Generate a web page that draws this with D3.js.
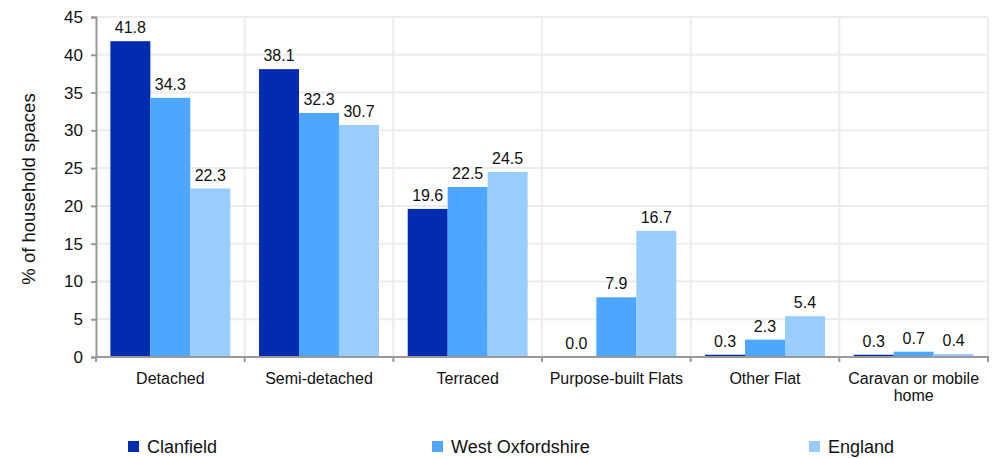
<!DOCTYPE html>
<html><head><meta charset="utf-8">
<script src="https://cdn.jsdelivr.net/npm/d3@7"></script>
<style>body{margin:0;background:#fff;} text{font-family:"Liberation Sans",Arial,sans-serif;fill:#111;}</style>
</head><body>
<svg id="c" width="992" height="458"></svg>
<script>
const categories = ["Detached","Semi-detached","Terraced","Purpose-built Flats","Other Flat","Caravan or mobile home"];
const seriesNames = ["Clanfield","West Oxfordshire","England"];
const clanfield = [41.8,38.1,19.6,0.0,0.3,0.3];
const westOxon = [34.3,32.3,22.5,7.9,2.3,0.7];
const england = [22.3,30.7,24.5,16.7,5.4,0.4];
const yTicks = [0,5,10,15,20,25,30,35,40,45];
const colors = ["#022cb0","#4da6ff","#99ccff"];
const seriesVals = [clanfield, westOxon, england];

const svg = d3.select("#c");
const m = {l:96, r:4, t:17, b:101};
const W = 992, H = 458;
const x0 = d3.scaleBand().domain(categories).range([m.l, W-m.r]).paddingInner(0).paddingOuter(0);
const x1 = d3.scaleBand().domain(seriesNames).range([0, x0.bandwidth()]).paddingInner(0).paddingOuter(0.36);
const y = d3.scaleLinear().domain([0,45]).range([H-m.b, m.t]);

// gridlines
const g = svg.append("g");
g.selectAll(".hg").data(yTicks.filter(d=>d>0)).enter().append("line")
 .attr("x1",m.l).attr("x2",W-m.r).attr("y1",d=>y(d)).attr("y2",d=>y(d))
 .attr("stroke","#ececec").attr("stroke-width",2);
const bounds = categories.map(c=>x0(c)).concat([W-m.r]).slice(1);
g.selectAll(".vg").data(bounds).enter().append("line")
 .attr("x1",d=>d).attr("x2",d=>d).attr("y1",m.t).attr("y2",y(0))
 .attr("stroke","#ececec").attr("stroke-width",2);

// bars
const groups = svg.append("g").selectAll("g").data(categories).enter().append("g")
 .attr("transform",c=>`translate(${x0(c)},0)`);
seriesNames.forEach((s,si)=>{
  groups.append("rect")
   .attr("x",x1(s)).attr("width",x1.bandwidth())
   .attr("y",(c,i)=>y(seriesVals[si][i])).attr("height",(c,i)=>y(0)-y(seriesVals[si][i]))
   .attr("fill",colors[si]);
  groups.append("text")
   .attr("x",x1(s)+x1.bandwidth()/2).attr("y",(c,i)=>y(seriesVals[si][i])-8)
   .attr("text-anchor","middle").style("font-size","16px")
   .text((c,i)=>seriesVals[si][i].toFixed(1));
});

// y axis
const ya = svg.append("g").attr("transform",`translate(${m.l},0)`)
 .call(d3.axisLeft(y).tickValues(yTicks).tickSize(5).tickPadding(8));
ya.select(".domain").attr("stroke","#999").attr("stroke-width",2);
ya.selectAll(".tick line").attr("stroke","#999").attr("stroke-width",2);
ya.selectAll("text").style("font-size","17px").attr("fill","#111").style("font-family","'Liberation Sans',Arial,sans-serif");

// x axis
const xa = svg.append("g").attr("transform",`translate(0,${y(0)})`);
xa.append("line").attr("x1",m.l).attr("x2",W-m.r+1).attr("y1",0).attr("y2",0).attr("stroke","#999").attr("stroke-width",2);
xa.selectAll(".xt").data(categories.map(c=>x0(c)).concat([W-m.r])).enter().append("line")
 .attr("x1",d=>d).attr("x2",d=>d).attr("y1",0).attr("y2",5).attr("stroke","#999").attr("stroke-width",2);
const wrap = {"Caravan or mobile home":["Caravan or mobile","home"]};
categories.forEach(c=>{
  const lines = wrap[c] || [c];
  const t = xa.append("text").attr("text-anchor","middle").style("font-size","16px");
  lines.forEach((ln,i)=>{
    t.append("tspan").attr("x",x0(c)+x0.bandwidth()/2).attr("y",27+i*17).text(ln);
  });
});

// y title
svg.append("text").attr("transform",`translate(35,${(y(0)+y(45))/2+2}) rotate(-90)`)
 .attr("text-anchor","middle").style("font-size","18.5px").text("% of household spaces");

// legend
const legX = [128,432,809];
seriesNames.forEach((s,i)=>{
  svg.append("rect").attr("x",legX[i]).attr("y",441).attr("width",11).attr("height",11).attr("fill",colors[i]);
  svg.append("text").attr("x",legX[i]+19).attr("y",453).style("font-size","18px").text(s);
});
</script>
</body></html>
